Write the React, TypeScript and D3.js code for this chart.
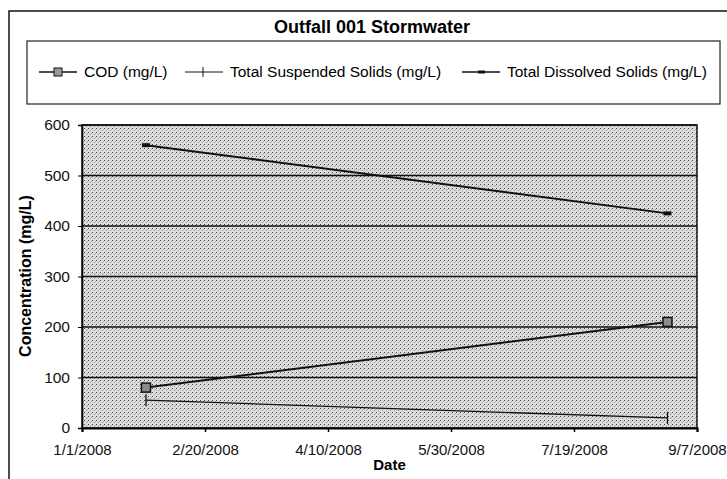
import { useEffect, useRef } from 'react';
import * as d3 from "d3";

// Sample dates and measured values (mg/L)
const sampleDates = ["2008-01-27", "2008-08-26"];
const codValues = [80, 210];
const tssValues = [55, 20];
const tdsValues = [560, 425];

const xTickDates = ["2008-01-01", "2008-02-20", "2008-04-10", "2008-05-30", "2008-07-19", "2008-09-07"];
const yTicks = [0, 100, 200, 300, 400, 500, 600];
const legendLabels = ["COD (mg/L)", "Total Suspended Solids (mg/L)", "Total Dissolved Solids (mg/L)"];

export default function App() {
  const chartRef = useRef<SVGSVGElement>(null);

  useEffect(() => {
    if (!chartRef.current) return;
    d3.select(chartRef.current).selectAll("*").remove();

    const width = 727;
    const height = 479;
    const marginTop = 125;
    const marginRight = 30;
    const marginBottom = 51;
    const marginLeft = 82;
    const font = "'Liberation Sans', Arial, sans-serif";
    const parse = d3.timeParse("%Y-%m-%d");

    const x = d3.scaleTime()
      .domain([parse(xTickDates[0])!, parse(xTickDates[xTickDates.length - 1])!])
      .range([marginLeft, width - marginRight]);

    const y = d3.scaleLinear()
      .domain([0, 600])
      .range([height - marginBottom, marginTop]);

    const svg = d3.select(chartRef.current)
      .attr("viewBox", [0, 0, width, height])
      .attr("width", width)
      .attr("height", height)
      .style("font-family", font);

    // speckled plot background
    const defs = svg.append("defs");
    const pat = defs.append("pattern")
      .attr("id", "speckle")
      .attr("width", 4)
      .attr("height", 4)
      .attr("patternUnits", "userSpaceOnUse");
    pat.append("rect").attr("width", 4).attr("height", 4).attr("fill", "#dcdcdc");
    pat.append("rect").attr("x", 0).attr("y", 0).attr("width", 1).attr("height", 1).attr("fill", "#444");
    pat.append("rect").attr("x", 2).attr("y", 2).attr("width", 1).attr("height", 1).attr("fill", "#999");
    pat.append("rect").attr("x", 3).attr("y", 1).attr("width", 1).attr("height", 1).attr("fill", "#b0b0b0");

    svg.append("rect").attr("width", width).attr("height", height).attr("fill", "#fff");

    // outer chart border
    svg.append("rect")
      .attr("x", 9).attr("y", 11)
      .attr("width", width + 20).attr("height", height + 20)
      .attr("fill", "none").attr("stroke", "#111").attr("stroke-width", 1.5);

    // title
    svg.append("text")
      .attr("x", 372).attr("y", 33)
      .attr("text-anchor", "middle")
      .attr("font-size", 18).attr("font-weight", "bold")
      .text("Outfall 001 Stormwater");

    // legend box
    svg.append("rect")
      .attr("x", 27).attr("y", 41)
      .attr("width", 693).attr("height", 63)
      .attr("fill", "#fff").attr("stroke", "#222").attr("stroke-width", 1.2);

    const legendX = [39, 185, 462];
    const legend = svg.append("g").selectAll("g")
      .data(legendLabels)
      .join("g")
      .attr("transform", (_, i) => `translate(${legendX[i]},72)`);

    legend.append("line")
      .attr("x1", 0).attr("x2", 38)
      .attr("stroke", "#111")
      .attr("stroke-width", (_, i) => i === 1 ? 1 : 1.5);

    legend.append("text")
      .attr("x", 45).attr("y", 5)
      .attr("font-size", 15.5)
      .text(d => d);

    legend.filter((_, i) => i === 0).append("rect")
      .attr("x", 15).attr("y", -4).attr("width", 8).attr("height", 8)
      .attr("fill", "#999").attr("stroke", "#111");
    legend.filter((_, i) => i === 1).append("line")
      .attr("x1", 18).attr("x2", 18).attr("y1", -5).attr("y2", 5)
      .attr("stroke", "#111");
    legend.filter((_, i) => i === 2).append("rect")
      .attr("x", 16).attr("y", -1.5).attr("width", 7).attr("height", 3)
      .attr("fill", "#111");

    // plot area
    svg.append("rect")
      .attr("x", marginLeft).attr("y", marginTop)
      .attr("width", width - marginRight - marginLeft)
      .attr("height", height - marginBottom - marginTop)
      .attr("fill", "url(#speckle)")
      .attr("stroke", "#111").attr("stroke-width", 1.5);

    // gridlines
    svg.append("g")
      .selectAll("line")
      .data(yTicks.slice(1))
      .join("line")
      .attr("x1", marginLeft).attr("x2", width - marginRight)
      .attr("y1", d => y(d)).attr("y2", d => y(d))
      .attr("stroke", "#111").attr("stroke-width", 1.5);

    // x-axis
    svg.append("g")
      .attr("transform", `translate(0,${height - marginBottom})`)
      .call(d3.axisBottom(x)
        .tickValues(xTickDates.map(d => parse(d)!))
        .tickFormat(d => d3.timeFormat("%-m/%-d/%Y")(d as Date))
        .tickSize(4)
        .tickPadding(12))
      .call(g => g.select(".domain").attr("stroke-width", 2))
      .call(g => g.selectAll(".tick line").attr("stroke-width", 1.5))
      .call(g => g.selectAll("text")
        .attr("font-size", 15)
        .attr("font-family", font)
        .attr("fill", "#111"));

    // y-axis
    svg.append("g")
      .attr("transform", `translate(${marginLeft},0)`)
      .call(d3.axisLeft(y).tickValues(yTicks).tickSize(4).tickPadding(8))
      .call(g => g.select(".domain").attr("stroke-width", 1.5))
      .call(g => g.selectAll("text")
        .attr("font-size", 15.5)
        .attr("font-family", font)
        .attr("fill", "#111"));

    // axis titles
    svg.append("text")
      .attr("x", (marginLeft + width - marginRight) / 2)
      .attr("y", 470)
      .attr("text-anchor", "middle")
      .attr("font-size", 15).attr("font-weight", "bold")
      .text("Date");

    svg.append("text")
      .attr("transform", "rotate(-90)")
      .attr("x", -276).attr("y", 31)
      .attr("text-anchor", "middle")
      .attr("font-size", 16).attr("font-weight", "bold")
      .text("Concentration (mg/L)");

    const dates = sampleDates.map(d => parse(d)!);
    const line = d3.line<[Date, number]>()
      .x(d => x(d[0]))
      .y(d => y(d[1]));

    const series = [
      { values: tdsValues, width: 2 },
      { values: codValues, width: 2 },
      { values: tssValues, width: 1.3 },
    ];

    series.forEach(s => {
      svg.append("path")
        .datum(dates.map((d, i) => [d, s.values[i]] as [Date, number]))
        .attr("fill", "none")
        .attr("stroke", "#111")
        .attr("stroke-width", s.width)
        .attr("d", line);
    });

    // markers
    svg.append("g").selectAll("rect")
      .data(dates.map((d, i) => [d, codValues[i]] as [Date, number]))
      .join("rect")
      .attr("x", d => x(d[0]) - 4.5).attr("y", d => y(d[1]) - 4.5)
      .attr("width", 9).attr("height", 9)
      .attr("fill", "#8c8c8c").attr("stroke", "#111").attr("stroke-width", 1.5);

    svg.append("g").selectAll("line")
      .data(dates.map((d, i) => [d, tssValues[i]] as [Date, number]))
      .join("line")
      .attr("x1", d => x(d[0])).attr("x2", d => x(d[0]))
      .attr("y1", d => y(d[1]) - 6).attr("y2", d => y(d[1]) + 6)
      .attr("stroke", "#111").attr("stroke-width", 1.3);

    svg.append("g").selectAll("rect")
      .data(dates.map((d, i) => [d, tdsValues[i]] as [Date, number]))
      .join("rect")
      .attr("x", d => x(d[0]) - 4).attr("y", d => y(d[1]) - 2)
      .attr("width", 8).attr("height", 4)
      .attr("fill", "#111");
  }, []);

  return (
    <svg ref={chartRef} style={{ position: "absolute", left: 0, top: 0 }}></svg>
  );
}
